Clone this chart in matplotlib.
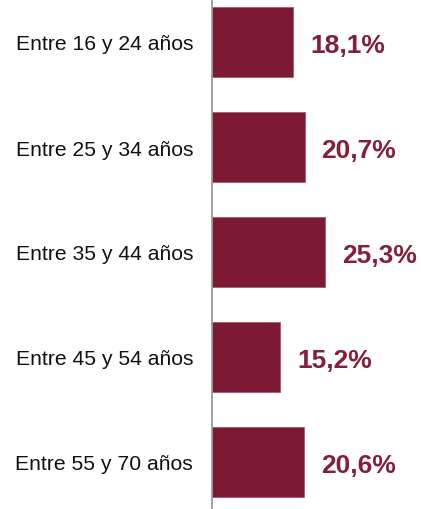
import matplotlib
matplotlib.use("Agg")
import matplotlib.pyplot as plt

categories = ["Entre 16 y 24 años", "Entre 25 y 34 años", "Entre 35 y 44 años",
              "Entre 45 y 54 años", "Entre 55 y 70 años"]
values = [18.1, 20.7, 25.3, 15.2, 20.6]
value_labels = ["18,1%", "20,7%", "25,3%", "15,2%", "20,6%"]

plt.rcParams['font.family'] = ['Liberation Sans', 'DejaVu Sans']
W, H = 421, 510
fig = plt.figure(figsize=(W/100, H/100), dpi=100)
ax = fig.add_axes([212/W, 0, (W-212)/W, 1])
color = "#7E1933"
ypos = list(range(len(values)))
ax.barh(ypos, values, height=0.667, color=color, edgecolor="#A05A6C", linewidth=0.6)
ax.set_xlim(0, (W-212)/4.47)
ax.set_ylim(4 + 47/105, -43/105)
for y, v, lab in zip(ypos, values, value_labels):
    ax.annotate(lab, (v, y), xytext=(17, -3), textcoords="offset pixels",
                ha="left", va="center", fontsize=19, fontweight="bold", color="#841E3B")
ax.set_yticks(ypos)
ax.set_yticklabels(categories, fontsize=15.2, color="#111111")
ax.tick_params(axis="y", length=0, pad=19 * 72 / 100)
ax.set_xticks([])
for s in ["top", "right", "bottom"]:
    ax.spines[s].set_visible(False)
ax.spines["left"].set_color("#999999")
ax.spines["left"].set_linewidth(1.3)
fig.savefig("out.png", dpi=100)
